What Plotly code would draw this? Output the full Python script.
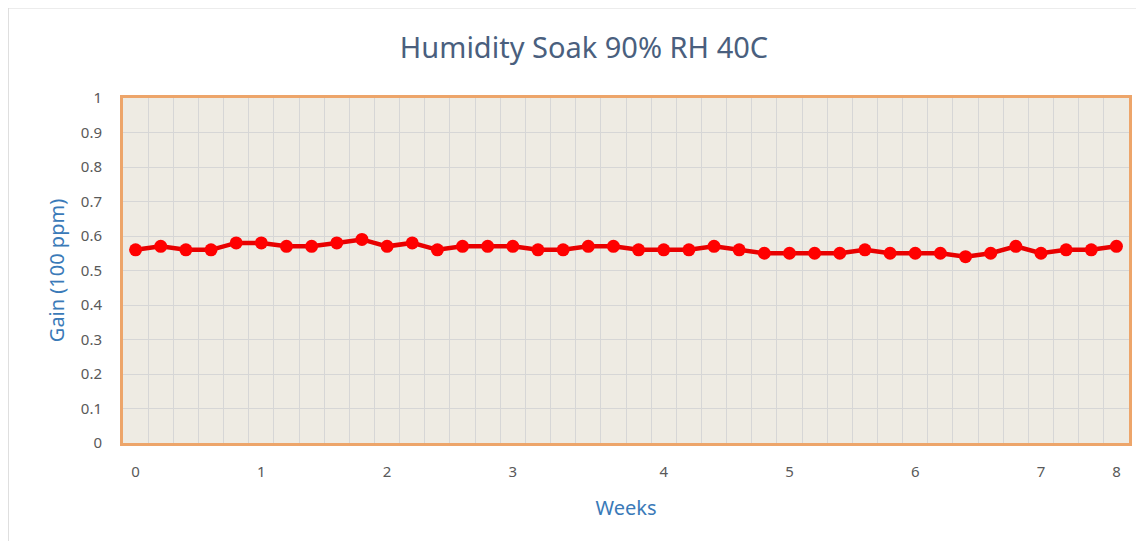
import plotly.graph_objects as go

# Data (40 samples, category axis)
gain = [0.56, 0.57, 0.56, 0.56, 0.58, 0.58, 0.57, 0.57, 0.58, 0.59,
        0.57, 0.58, 0.56, 0.57, 0.57, 0.57, 0.56, 0.56, 0.57, 0.57,
        0.56, 0.56, 0.56, 0.57, 0.56, 0.55, 0.55, 0.55, 0.55, 0.56,
        0.55, 0.55, 0.55, 0.54, 0.55, 0.57, 0.55, 0.56, 0.56, 0.57]
sample_index = list(range(len(gain)))
week_label_positions = [0, 5, 10, 15, 21, 26, 31, 36, 39]
week_labels = ["0", "1", "2", "3", "4", "5", "6", "7", "8"]
y_ticks = [0, 0.1, 0.2, 0.3, 0.4, 0.5, 0.6, 0.7, 0.8, 0.9, 1]
y_tick_labels = ["0", "0.1", "0.2", "0.3", "0.4", "0.5", "0.6", "0.7", "0.8", "0.9", "1"]

n = len(gain)
boundaries = [k - 0.5 for k in range(n + 1)]

W, H = 1128, 533
ML, MR, MT, MB = 115, 4, 90, 98
PW, PH = W - ML - MR, H - MT - MB

FONT = "Noto Sans"
fig = go.Figure()
fig.add_trace(go.Scatter(
    x=sample_index, y=gain, mode="lines+markers",
    line=dict(color="#E80000", width=4.5),
    marker=dict(color="#FF0000", size=13, line=dict(width=0)),
    showlegend=False,
))

fig.update_layout(
    width=W, height=H,
    margin=dict(l=ML, r=MR, t=MT, b=MB),
    paper_bgcolor="white",
    plot_bgcolor="#EEEBE3",
    title=dict(text="Humidity Soak 90% RH 40C", x=576 / W, xanchor="center",
               y=1 - 40 / H, yanchor="middle",
               font=dict(family=FONT, size=29, color="#4A5F7E")),
    font=dict(family=FONT),
)
fig.update_xaxes(
    range=[-0.5, n - 0.5],
    tickmode="array", tickvals=week_label_positions, ticktext=week_labels,
    showgrid=False, zeroline=False,
    ticks="outside", ticklen=13, tickcolor="rgba(0,0,0,0)",
    tickfont=dict(size=15, color="#595959"),
    showline=True, mirror=True, linecolor="#EDA56A", linewidth=3,
    minor=dict(tickmode="array", tickvals=boundaries, showgrid=True,
               gridcolor="#D6D6D6", gridwidth=1, ticks=""),
    title=dict(text="Weeks", font=dict(size=20, color="#3A7AB8"), standoff=21),
)
fig.update_yaxes(
    range=[0, 1],
    tickmode="array", tickvals=y_ticks, ticktext=y_tick_labels,
    showgrid=True, gridcolor="#D6D6D6", gridwidth=1, zeroline=False,
    ticks="outside", ticklen=15, tickcolor="rgba(0,0,0,0)",
    tickfont=dict(size=15, color="#595959"),
    showline=True, mirror=True, linecolor="#EDA56A", linewidth=3,
    title=dict(text="Gain (100 ppm)", font=dict(size=20, color="#3A7AB8"), standoff=11),
)
# faint outer chart frame (left and top edges visible)
fig.add_shape(type="rect", xref="paper", yref="paper",
              x0=-ML / PW, x1=(W - ML + 20) / PW,
              y0=-(MB + 20) / PH, y1=(H - MB) / PH,
              line=dict(color="#D9D9D9", width=1), layer="below")

fig.write_html("out.html")
